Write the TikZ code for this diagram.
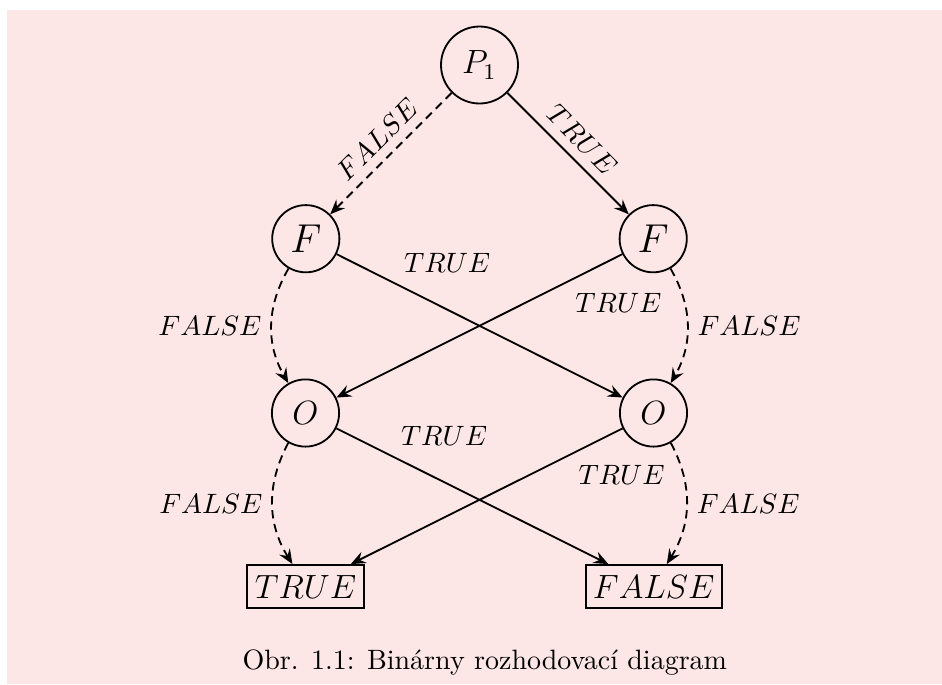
\documentclass[tikz,border=0pt]{standalone}
\usetikzlibrary{arrows.meta}
\definecolor{bgpink}{RGB}{253,230,230}
\begin{document}
\begin{tikzpicture}[x=0.35714pt, y=-0.35714pt,
  vert/.style={circle, draw, line width=0.65pt, inner sep=0pt},
  leaf/.style={rectangle, draw, line width=0.8pt, inner sep=0pt,
    minimum height=15.36pt, font=\large},
  conn/.style={line width=0.65pt,
    -{Stealth[length=5.3pt,width=4.4pt,inset=1.9pt]}},
  falseedge/.style={conn, dash pattern=on 3pt off 2pt}]
\useasboundingbox (0,0) rectangle (942,684);
\fill[bgpink] (7,10) rectangle (942,684);

% decision vertices
\node[vert, minimum size=27.5pt, font=\large] (p1) at (479.5,65) {$P_1$};
\node[vert, minimum size=24pt, font=\Large] (fl) at (305.8,238.7) {$F$};
\node[vert, minimum size=24pt, font=\Large] (fr) at (653.2,238.7) {$F$};
\node[vert, minimum size=24pt, font=\large] (ol) at (305.5,413) {$O$};
\node[vert, minimum size=24pt, font=\large] (or) at (653.5,413) {$O$};

% terminal vertices
\node[leaf, minimum width=41.8pt] (t) at (305.5,586.7) {$TRUE$};
\node[leaf, minimum width=48.6pt] (f) at (653.7,586.7) {$FALSE$};

\node[anchor=base] (cap) at (484.8,669.3) {Obr. 1.1: Binárny rozhodovací diagram};

% edges
\draw[falseedge] (p1) -- node[sloped, above] {$FALSE$} (fl);
\draw[conn] (p1) -- node[sloped, above] {$TRUE$} (fr);
\draw[falseedge] (fl) to[bend right=30] node[left] {$FALSE$} (ol);
\draw[falseedge] (fr) to[bend left=30] node[right] {$FALSE$} (or);
\draw[conn] (fl) -- node[pos=0.2, above right] {$TRUE$} (or);
\draw[conn] (fr) -- node[pos=0.2, below right] {$TRUE$} (ol);
\draw[falseedge] (ol) to[bend right=30] node[left] {$FALSE$} (t);
\draw[falseedge] (or) to[bend left=30] node[right] {$FALSE$} (f);
\draw[conn] (ol) -- node[pos=0.2, above right] {$TRUE$} (f);
\draw[conn] (or) -- node[pos=0.2, below right] {$TRUE$} (t);
\end{tikzpicture}
\end{document}
